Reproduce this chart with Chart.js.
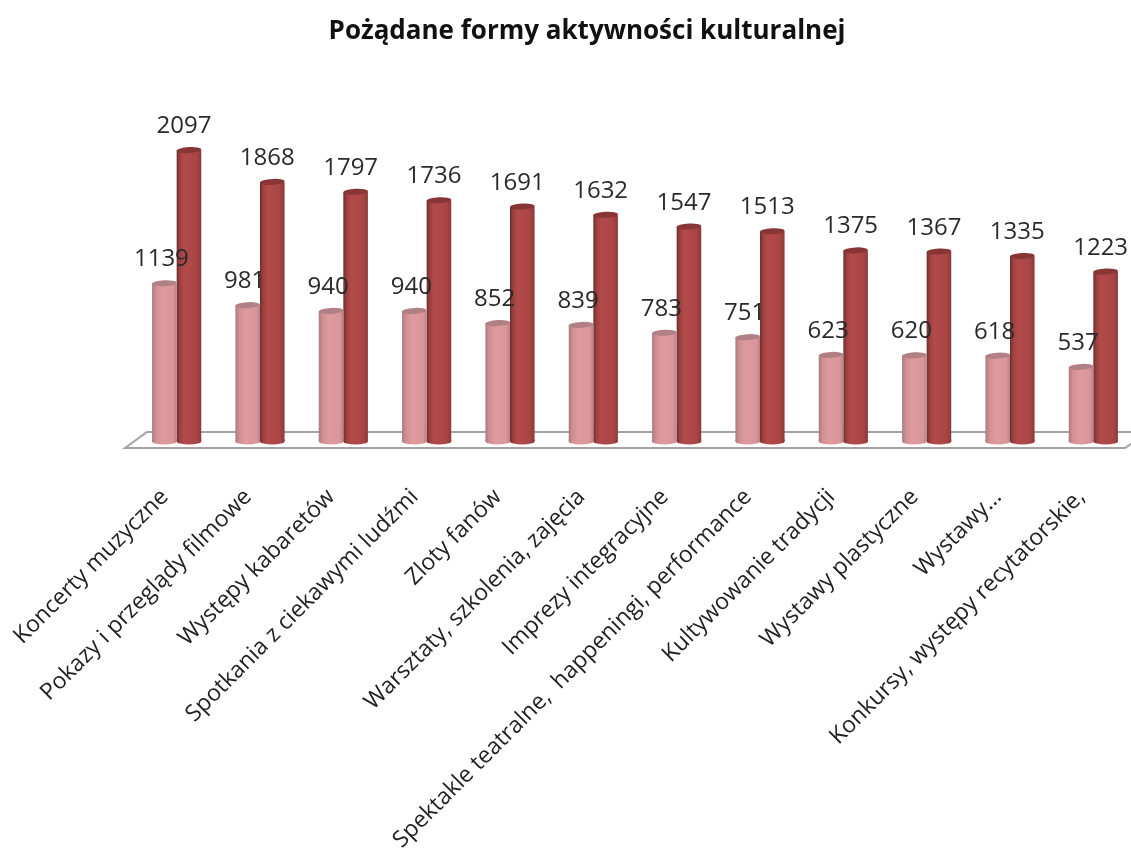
<!DOCTYPE html>
<html><head><meta charset="utf-8">
<style>html,body{margin:0;padding:0;background:#fff;overflow:hidden}canvas{display:block}</style>
<script src="https://cdn.jsdelivr.net/npm/chart.js@4"></script></head>
<body><canvas id="c" width="1140" height="849"></canvas>
<script>
const chartTitle = "Pożądane formy aktywności kulturalnej";
const categories = ["Koncerty muzyczne","Pokazy i przeglądy filmowe","Występy kabaretów","Spotkania z ciekawymi ludźmi","Zloty fanów","Warsztaty, szkolenia, zajęcia","Imprezy integracyjne","Spektakle teatralne,  happeningi, performance","Kultywowanie tradycji","Wystawy plastyczne","Wystawy...","Konkursy, występy recytatorskie,"];
const seriesA = [1139,981,940,940,852,839,783,751,623,620,618,537];
const seriesB = [2097,1868,1797,1736,1691,1632,1547,1513,1375,1367,1335,1223];
const FONT = '"Open Sans", sans-serif';

function barGrad(ctx, x0, x1, stops){
  const g = ctx.createLinearGradient(x0,0,x1,0);
  stops.forEach(s=>g.addColorStop(s[0],s[1]));
  return g;
}
const lightStops=[[0,'#aa7a7e'],[0.15,'#d08f93'],[0.4,'#df9a9d'],[0.85,'#d9979a'],[1,'#b98185']];
const darkStops=[[0,'#6e2c2a'],[0.12,'#9a3f3f'],[0.3,'#b24a4a'],[0.8,'#ab4545'],[1,'#8c3a3a']];
function fill(stops){
  return c=>{
    const sx=c.chart.scales.x;
    if(!sx||c.dataIndex===undefined) return stops[2][1];
    const centre=sx.getPixelForValue(c.dataIndex), w=24.5;
    if(!Number.isFinite(centre)) return stops[2][1];
    const x0=c.datasetIndex===0?centre-w:centre;
    return barGrad(c.chart.ctx,x0,x0+w,stops);
  };
}
const cylinder={
  id:'cylinder',
  afterLayout(ch){ ch.titleBlock.left-=96; },
  beforeDatasetsDraw(ch){
    const {ctx,chartArea:a}=ch;
    const b=a.bottom;
    ctx.save();
    ctx.strokeStyle='#a3a3a3';ctx.lineWidth=2;
    ctx.beginPath();
    ctx.moveTo(1134,b-9.5);ctx.lineTo(a.left+12,b-9.5);ctx.lineTo(a.left-10,b+6.5);ctx.lineTo(a.left+990,b+6.5);ctx.lineTo(a.left+998,b+1);
    ctx.stroke();
    ctx.restore();
  },
  afterDatasetDraw(ch,args){
    const {ctx}=ch;
    const capColor=args.index===0?'#b08084':'#873535';
    ch.getDatasetMeta(args.index).data.forEach(el=>{
      const x=el.x,w=el.width/2;
      ctx.save();
      ctx.fillStyle=barGrad(ctx,x-w,x+w,args.index===0?lightStops:darkStops);
      ctx.beginPath();ctx.rect(x-w,el.base-2,w*2,2);ctx.ellipse(x,el.base,w,3,0,0,Math.PI);ctx.fill();
      ctx.fillStyle=capColor;
      ctx.beginPath();ctx.ellipse(x,el.y,w,3,-0.05,0,Math.PI*2);ctx.fill();
      ctx.restore();
    });
  },
  afterDraw(ch){
    const {ctx}=ch;
    ctx.save();
    ctx.font='24px '+FONT;ctx.fillStyle='#2a2a2a';ctx.textAlign='center';ctx.textBaseline='alphabetic';
    ch.data.datasets.forEach((d,i)=>{
      ch.getDatasetMeta(i).data.forEach((el,j)=>{
        ctx.fillText(String(d.data[j]),el.x-(i?5:3),el.y-17);
      });
    });
    ctx.restore();
  }
};
new Chart(document.getElementById('c'),{
  type:'bar',
  data:{labels:categories,datasets:[
    {label:'A',data:seriesA,backgroundColor:fill(lightStops),borderWidth:0,categoryPercentage:0.59,barPercentage:1},
    {label:'B',data:seriesB,backgroundColor:fill(darkStops),borderWidth:0,categoryPercentage:0.59,barPercentage:1}
  ]},
  options:{
    responsive:false,animation:false,
    layout:{padding:{left:135,right:5,top:0,bottom:0}},
    plugins:{
      legend:{display:false},tooltip:{enabled:false},
      title:{display:true,text:chartTitle,color:'#111',font:{family:FONT,size:26,weight:'bold'},padding:{top:16,bottom:60.8}}
    },
    scales:{
      x:{grid:{display:false},border:{display:false},
        afterFit(s){s.height=407.5;s.paddingLeft=0;s.paddingRight=0;},
        ticks:{autoSkip:false,maxRotation:45,minRotation:45,padding:34,labelOffset:-12,color:'#222',font:{family:FONT,size:23}}},
      y:{display:false,min:0,max:2400}
    }
  },
  plugins:[cylinder]
});
</script></body></html>
